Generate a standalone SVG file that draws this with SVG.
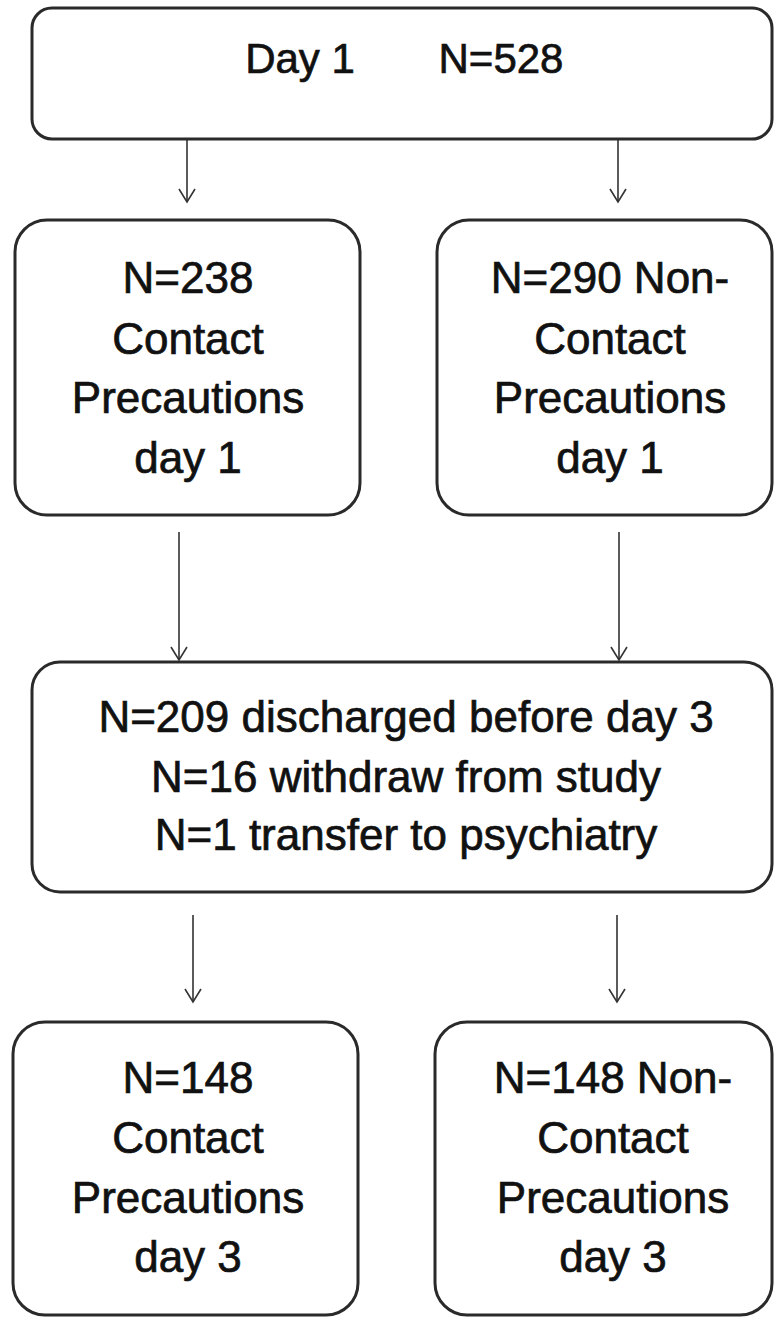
<svg xmlns="http://www.w3.org/2000/svg" width="775" height="1317" viewBox="0 0 775 1317">
<style>
.box{fill:#fff;stroke:#2a2a2a;stroke-width:3}
.t{font-family:"Liberation Sans",Arial,sans-serif;font-size:44px;fill:#111;stroke:#111;stroke-width:0.7;text-anchor:middle}
.c{stroke:#333;stroke-width:1.6;fill:none}
</style>
<defs>
<marker id="ah" markerWidth="16" markerHeight="18" refX="14" refY="9" orient="auto" markerUnits="userSpaceOnUse" viewBox="0 0 16 18">
<path d="M1,1 L14,9 L1,17" fill="none" stroke="#333" stroke-width="1.6"/>
</marker>
</defs>
<rect width="775" height="1317" fill="#fff"/>
<g id="connectors">
<line class="c" x1="187" y1="140" x2="187" y2="202" marker-end="url(#ah)"/>
<line class="c" x1="618" y1="140" x2="618" y2="202" marker-end="url(#ah)"/>
<line class="c" x1="179" y1="532" x2="179" y2="660" marker-end="url(#ah)"/>
<line class="c" x1="619" y1="532" x2="619" y2="660" marker-end="url(#ah)"/>
<line class="c" x1="193" y1="915" x2="193" y2="1002" marker-end="url(#ah)"/>
<line class="c" x1="617" y1="915" x2="617" y2="1002" marker-end="url(#ah)"/>
</g>
<g id="day1">
<rect class="box" x="32" y="8" width="740" height="131" rx="20"/>
<text class="t" y="73" style="font-size:42px"><tspan x="300">Day 1</tspan><tspan x="501">N=528</tspan></text>
</g>
<g id="contact-day1">
<rect class="box" x="15" y="220" width="345" height="295" rx="32"/>
<text class="t" x="188" y="293">N=238</text>
<text class="t" x="188" y="354">Contact</text>
<text class="t" x="188" y="413">Precautions</text>
<text class="t" x="188" y="473">day 1</text>
</g>
<g id="noncontact-day1">
<rect class="box" x="437" y="220" width="335" height="295" rx="32"/>
<text class="t" x="610" y="293">N=290 Non-</text>
<text class="t" x="610" y="354">Contact</text>
<text class="t" x="610" y="413">Precautions</text>
<text class="t" x="610" y="473">day 1</text>
</g>
<g id="excluded">
<rect class="box" x="32" y="662" width="740" height="230" rx="28"/>
<text class="t" x="406" y="732">N=209 discharged before day 3</text>
<text class="t" x="406" y="792">N=16 withdraw from study</text>
<text class="t" x="406" y="850">N=1 transfer to psychiatry</text>
</g>
<g id="contact-day3">
<rect class="box" x="13" y="1022" width="345" height="293" rx="32"/>
<text class="t" x="188" y="1093">N=148</text>
<text class="t" x="188" y="1153">Contact</text>
<text class="t" x="188" y="1213">Precautions</text>
<text class="t" x="188" y="1272">day 3</text>
</g>
<g id="noncontact-day3">
<rect class="box" x="435" y="1022" width="337" height="293" rx="32"/>
<text class="t" x="613" y="1093">N=148 Non-</text>
<text class="t" x="613" y="1153">Contact</text>
<text class="t" x="613" y="1213">Precautions</text>
<text class="t" x="613" y="1272">day 3</text>
</g>
</svg>
